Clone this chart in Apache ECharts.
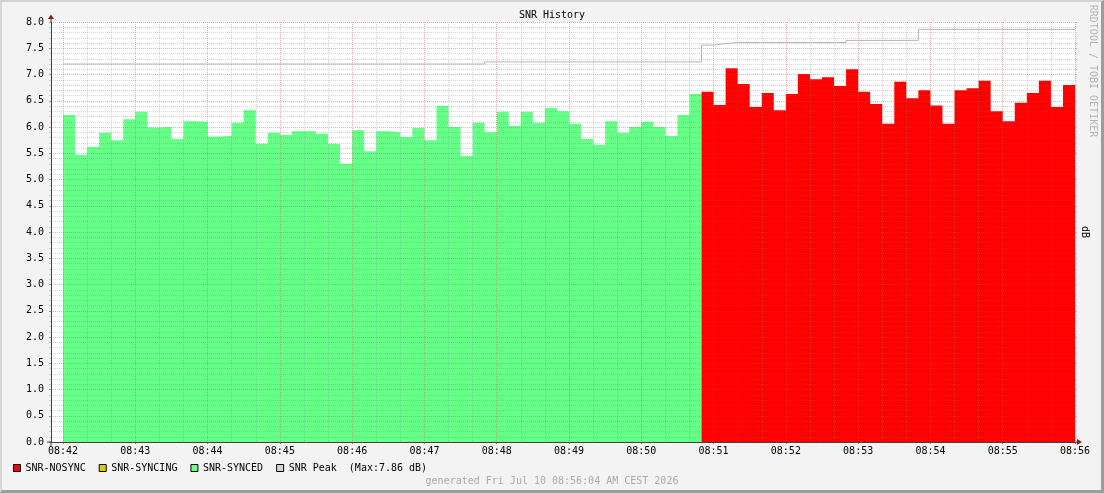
<!DOCTYPE html>
<html>
<head>
<meta charset="utf-8">
<title>SNR History</title>
<script src="https://cdn.jsdelivr.net/npm/echarts@6/dist/echarts.min.js"></script>
<style>
  html, body { margin: 0; padding: 0; background: #f3f3f3; }
  #wrap { position: relative; width: 1104px; height: 493px; }
  #chart { width: 1104px; height: 493px; }
  #frame {
    position: absolute; left: 0; top: 0; width: 1104px; height: 493px;
    box-sizing: border-box; pointer-events: none;
    border-top: 2px solid #d2d2d2; border-left: 2px solid #d6d6d6;
    border-right: 3px solid #9c9c9c; border-bottom: 3px solid #9c9c9c;
  }
</style>
</head>
<body>
<div id="wrap"><div id="chart"></div><div id="frame"></div></div>
<script>
// tick labels, one per minute
const timeLabels = ['08:42', '08:43', '08:44', '08:45', '08:46', '08:47', '08:48',
  '08:49', '08:50', '08:51', '08:52', '08:53', '08:54', '08:55', '08:56'];
const stepSeconds = 10;

// SNR values per 10 s step (dB)
const snrSynced = [6.23, 5.47, 5.62, 5.89, 5.75, 6.15, 6.29, 5.99, 6.00, 5.77,
  6.11, 6.10, 5.82, 5.83, 6.08, 6.32, 5.68, 5.89, 5.85, 5.92,
  5.92, 5.87, 5.68, 5.30, 5.94, 5.54, 5.92, 5.90, 5.81, 5.98,
  5.75, 6.40, 6.00, 5.45, 6.08, 5.90, 6.29, 6.02, 6.29, 6.08,
  6.36, 6.30, 6.06, 5.77, 5.66, 6.11, 5.89, 6.00, 6.10, 6.00,
  5.83, 6.23, 6.63];
const snrNosync = [6.67, 6.42, 7.12, 6.82, 6.38, 6.65, 6.32, 6.63, 7.01, 6.91,
  6.95, 6.78, 7.10, 6.67, 6.44, 6.06, 6.86, 6.55, 6.70, 6.41,
  6.06, 6.70, 6.74, 6.88, 6.30, 6.11, 6.46, 6.65, 6.88, 6.38,
  6.80];
const snrSyncing = [];
const snrPeak = [7.20, 7.20, 7.20, 7.20, 7.20, 7.20, 7.20, 7.20, 7.20, 7.20,
  7.20, 7.20, 7.20, 7.20, 7.20, 7.20, 7.20, 7.20, 7.20, 7.20,
  7.20, 7.20, 7.20, 7.20, 7.20, 7.20, 7.20, 7.20, 7.20, 7.20,
  7.20, 7.20, 7.20, 7.20, 7.20, 7.24, 7.24, 7.24, 7.24, 7.24,
  7.24, 7.24, 7.24, 7.24, 7.24, 7.24, 7.24, 7.24, 7.24, 7.24,
  7.24, 7.24, 7.24, 7.56, 7.59, 7.61, 7.61, 7.61, 7.61, 7.61,
  7.61, 7.61, 7.61, 7.61, 7.61, 7.65, 7.65, 7.65, 7.65, 7.65,
  7.65, 7.86, 7.86, 7.86, 7.86, 7.86, 7.86, 7.86, 7.86, 7.86,
  7.86, 7.86, 7.86, 7.86];

const mono = "'DejaVu Sans Mono', monospace";
const majorGrid = 'rgba(222, 80, 80, 0.45)';
const minorGrid = 'rgba(120, 120, 120, 0.32)';

// step series: each value holds for one step, last one closed at its end
function stepPoints(values, offset) {
  const pts = values.map((v, i) => [(offset + i) * stepSeconds, v]);
  if (values.length) {
    pts.push([(offset + values.length) * stepSeconds, values[values.length - 1]]);
  }
  return pts;
}

const xMax = snrPeak.length * stepSeconds;
const peakMax = Math.max(...snrPeak);

const chart = echarts.init(document.getElementById('chart'), null, { renderer: 'canvas' });

// grid lines sit on top of the areas, like rrdtool draws them
const gridLayer = 1;

const option = {
  animation: false,
  backgroundColor: 'transparent',
  textStyle: { fontFamily: mono },
  title: {
    text: 'SNR History',
    left: 'center',
    top: 10,
    padding: 0,
    textStyle: { fontFamily: mono, fontSize: 10, fontWeight: 'normal', color: '#000' },
  },
  legend: {
    left: 13,
    top: 463,
    padding: 0,
    icon: 'rect',
    itemWidth: 7,
    itemHeight: 7,
    itemGap: 13,
    selectedMode: false,
    itemStyle: { borderColor: '#000', borderWidth: 1 },
    textStyle: { fontFamily: mono, fontSize: 10, color: '#000' },
    data: [
      { name: 'SNR-NOSYNC', itemStyle: { color: '#ff0000' } },
      { name: 'SNR-SYNCING', itemStyle: { color: '#ddcc00' } },
      { name: 'SNR-SYNCED', itemStyle: { color: '#66ff88' } },
      { name: 'SNR Peak', itemStyle: { color: '#d4d4d4' } },
    ],
    formatter: (name) => name === 'SNR Peak'
      ? name + '  (Max:' + peakMax.toFixed(2) + ' dB)'
      : name,
  },
  grid: [
    { left: 51, right: 29, top: 22, bottom: 51, show: true, backgroundColor: '#fff', borderWidth: 0 },
    { left: 63, right: 29, top: 22, bottom: 51, show: false },
  ],
  xAxis: [
    {
      gridIndex: 0, type: 'value', min: 0, max: 1, zlevel: gridLayer, z: 3,
      axisLine: { show: true, lineStyle: { color: '#404040', width: 1 } },
      axisTick: { show: false }, axisLabel: { show: false }, splitLine: { show: false },
    },
    {
      gridIndex: 1, type: 'value', min: 0, max: xMax, interval: 60, zlevel: gridLayer, z: 2,
      axisLine: { show: false },
      axisTick: { show: true, length: 2, lineStyle: { color: '#c07070' } },
      minorTick: { show: false, splitNumber: 3 },
      axisLabel: {
        margin: 4, color: '#000', fontFamily: mono, fontSize: 10,
        formatter: (v) => timeLabels[Math.round(v / 60)],
      },
      splitLine: { show: true, lineStyle: { color: majorGrid, type: [1, 1], width: 1 } },
      minorSplitLine: { show: true, lineStyle: { color: minorGrid, type: [1, 1], width: 1 } },
    },
  ],
  yAxis: [
    {
      gridIndex: 0, type: 'value', min: 0, max: 8, interval: 0.5, zlevel: gridLayer, z: 3,
      axisLine: { show: true, lineStyle: { color: '#404040', width: 1 } },
      axisTick: { show: true, length: 2, lineStyle: { color: '#999' } },
      minorTick: { show: true, splitNumber: 5, length: 2, lineStyle: { color: '#ccc' } },
      axisLabel: {
        margin: 7, color: '#000', fontFamily: mono, fontSize: 10,
        formatter: (v) => v.toFixed(1),
      },
      splitLine: { show: true, lineStyle: { color: majorGrid, type: [1, 1], width: 1 } },
      minorSplitLine: { show: true, lineStyle: { color: minorGrid, type: [1, 1], width: 1 } },
    },
    {
      gridIndex: 1, type: 'value', min: 0, max: 8, show: false,
    },
    {
      gridIndex: 0, type: 'value', min: 0, max: 8, interval: 0.5, position: 'right',
      zlevel: gridLayer, z: 3,
      axisLine: { show: false }, axisLabel: { show: false }, splitLine: { show: false },
      axisTick: { show: true, length: 2, lineStyle: { color: 'rgba(222, 80, 80, 0.5)' } },
      minorTick: { show: true, splitNumber: 5, length: 2, lineStyle: { color: '#d0d0d0' } },
    },
  ],
  series: [
    {
      name: 'SNR-SYNCED', type: 'line', step: 'end', xAxisIndex: 1, yAxisIndex: 1,
      symbol: 'none', silent: true, color: '#66ff88',
      lineStyle: { width: 0, opacity: 0 },
      areaStyle: { color: '#66ff88', opacity: 1 },
      data: stepPoints(snrSynced, 0),
    },
    {
      name: 'SNR-NOSYNC', type: 'line', step: 'end', xAxisIndex: 1, yAxisIndex: 1,
      symbol: 'none', silent: true, color: '#ff0000',
      lineStyle: { width: 0, opacity: 0 },
      areaStyle: { color: '#ff0000', opacity: 1 },
      data: stepPoints(snrNosync, snrSynced.length),
    },
    {
      name: 'SNR-SYNCING', type: 'line', step: 'end', xAxisIndex: 1, yAxisIndex: 1,
      symbol: 'none', silent: true, color: '#ddcc00',
      lineStyle: { width: 0, opacity: 0 },
      areaStyle: { color: '#ddcc00', opacity: 1 },
      data: stepPoints(snrSyncing, 0),
    },
    {
      name: 'SNR Peak', type: 'line', step: 'end', xAxisIndex: 1, yAxisIndex: 1,
      symbol: 'none', silent: true, zlevel: gridLayer, z: 5, color: '#b4b4b4',
      lineStyle: { width: 1, color: '#b4b4b4' },
      data: stepPoints(snrPeak, 0),
    },
  ],
  graphic: [
    {
      id: 'generated', type: 'text', x: 552, y: 481,
      style: {
        text: 'generated Fri Jul 10 08:56:04 AM CEST 2026',
        font: '10px ' + mono, fill: '#aaaaaa', align: 'center', verticalAlign: 'middle',
      },
    },
    {
      id: 'watermark', type: 'text', x: 1093, y: 71, rotation: -Math.PI / 2,
      style: {
        text: 'RRDTOOL / TOBI OETIKER',
        font: '10px ' + mono, fill: '#b4b4b4', align: 'center', verticalAlign: 'middle',
      },
    },
    {
      id: 'unit', type: 'text', x: 1085, y: 232, rotation: -Math.PI / 2,
      style: {
        text: 'dB', font: '10px ' + mono, fill: '#000', align: 'center', verticalAlign: 'middle',
      },
    },
  ],
};

chart.setOption(option);

// axis arrows and stubs, placed from the grid's own coordinates
const topPt = chart.convertToPixel({ gridIndex: 0 }, [0, 8]);
const endPt = chart.convertToPixel({ gridIndex: 0 }, [1, 0]);
const originPt = chart.convertToPixel({ gridIndex: 0 }, [0, 0]);
const arrowColor = '#8a1c1c';
const axisColor = '#404040';
chart.setOption({
  graphic: [
    {
      id: 'yStem', type: 'line', zlevel: gridLayer, z: 10,
      shape: { x1: topPt[0], y1: topPt[1], x2: topPt[0], y2: topPt[1] - 3 },
      style: { stroke: axisColor, lineWidth: 1 },
    },
    {
      id: 'yArrow', type: 'polygon', zlevel: gridLayer, z: 10,
      shape: { points: [[topPt[0] - 3, topPt[1] - 3], [topPt[0] + 3, topPt[1] - 3], [topPt[0], topPt[1] - 7.5]] },
      style: { fill: arrowColor },
    },
    {
      id: 'xStem', type: 'line', zlevel: gridLayer, z: 10,
      shape: { x1: endPt[0], y1: endPt[1], x2: endPt[0] + 2, y2: endPt[1] },
      style: { stroke: axisColor, lineWidth: 1 },
    },
    {
      id: 'xArrow', type: 'polygon', zlevel: gridLayer, z: 10,
      shape: { points: [[endPt[0] + 2, endPt[1] - 3], [endPt[0] + 2, endPt[1] + 3], [endPt[0] + 7, endPt[1]]] },
      style: { fill: arrowColor },
    },
    {
      id: 'originX', type: 'line', zlevel: gridLayer, z: 10,
      shape: { x1: originPt[0] - 4, y1: originPt[1], x2: originPt[0], y2: originPt[1] },
      style: { stroke: axisColor, lineWidth: 1 },
    },
    {
      id: 'originY', type: 'line', zlevel: gridLayer, z: 10,
      shape: { x1: originPt[0], y1: originPt[1], x2: originPt[0], y2: originPt[1] + 4 },
      style: { stroke: axisColor, lineWidth: 1 },
    },
  ],
});
</script>
</body>
</html>
